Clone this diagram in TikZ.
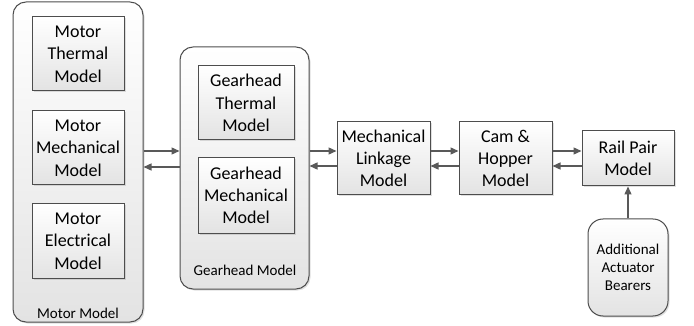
\documentclass[tikz,border=0pt]{standalone}
\usepackage{fontspec}
\setmainfont{Carlito}
\usetikzlibrary{arrows.meta,shadows}
\definecolor{edge}{HTML}{4D4D4D}
\definecolor{arrc}{HTML}{595959}
\tikzset{
  x=1pt,y=-1pt,
  shade box/.style={draw=edge, line width=1pt, top color=white, bottom color=black!11,
    drop shadow={shadow xshift=1.5pt, shadow yshift=-1.5pt, opacity=0.25},
    align=center, inner sep=0pt, font=\fontsize{18}{22.3}\selectfont},
  blockbox/.style={shade box},
  groupbox/.style={shade box, rounded corners=13pt},
  smalltext/.style={font=\fontsize{15}{18.3}\selectfont, align=center},
  arr/.style={draw=arrc, line width=1.3pt, -{Triangle[length=8pt,width=7pt]}},
}
\begin{document}
\begin{tikzpicture}
\useasboundingbox (0,0) rectangle (694,326);
% Motor group
\node[groupbox, minimum width=130pt, minimum height=320pt] (motor) at (78,162) {};
\node[blockbox, minimum width=92pt, minimum height=74pt] (mth) at (78,54) {Motor\\Thermal\\Model};
\node[blockbox, minimum width=92pt, minimum height=74pt] (mme) at (78,148) {Motor\\Mechanical\\Model};
\node[blockbox, minimum width=92pt, minimum height=74pt] (mel) at (78,241) {Motor\\Electrical\\Model};
\node[smalltext] (mlabel) at (78,313) {Motor Model};
% Gearhead group
\node[groupbox, minimum width=129pt, minimum height=242pt] (gear) at (244.5,168) {};
\node[blockbox, minimum width=96pt, minimum height=74pt] (gth) at (246,103) {Gearhead\\Thermal\\Model};
\node[blockbox, minimum width=96pt, minimum height=75pt] (gme) at (246,195.5) {Gearhead\\Mechanical\\Model};
\node[smalltext] (glabel) at (245,270) {Gearhead Model};
% chain
\node[blockbox, minimum width=93pt, minimum height=73pt] (link) at (383.5,158.5) {Mechanical\\Linkage\\Model};
\node[blockbox, minimum width=93pt, minimum height=73pt] (cam) at (505.5,158.5) {Cam \&\\Hopper\\Model};
\node[blockbox, minimum width=92pt, minimum height=55pt] (rail) at (628,158.5) {Rail Pair\\Model};
\node[shade box, rounded corners=15pt, minimum width=80pt, minimum height=97pt, font=\fontsize{15}{18.3}\selectfont] (add) at (628,267.5) {Additional\\Actuator\\Bearers};
% arrows
\draw[arr] (motor.east |- 0,151) -- (gear.west |- 0,151);
\draw[arr] (gear.west |- 0,167) -- (motor.east |- 0,167);
\draw[arr] (gear.east |- 0,151) -- (link.west |- 0,151);
\draw[arr] (link.west |- 0,166) -- (gear.east |- 0,166);
\draw[arr] (link.east |- 0,151) -- (cam.west |- 0,151);
\draw[arr] (cam.west |- 0,166) -- (link.east |- 0,166);
\draw[arr] (cam.east |- 0,151) -- (rail.west |- 0,151);
\draw[arr] (rail.west |- 0,166) -- (cam.east |- 0,166);
\draw[arr] (add.north) -- (rail.south);
\end{tikzpicture}
\end{document}
